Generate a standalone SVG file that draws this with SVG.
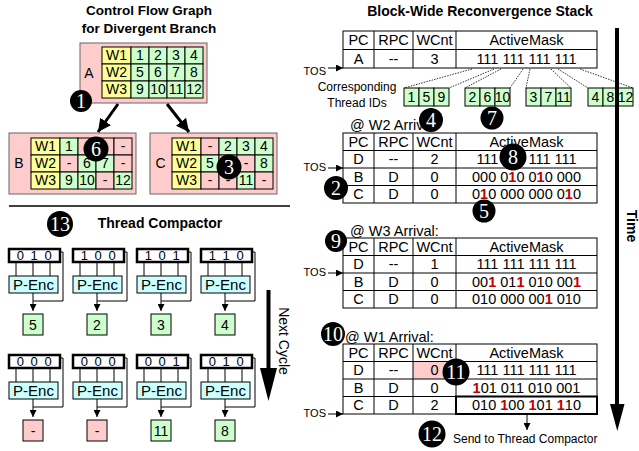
<svg xmlns="http://www.w3.org/2000/svg" width="639" height="451" viewBox="0 0 639 451">
<defs>
<style>
text{font-family:"Liberation Sans",Arial,sans-serif;fill:#000}
.title{font-size:13.5px;font-weight:bold;text-anchor:middle}
.c{text-anchor:middle;font-size:14px}
.box{fill:#ffcccc;stroke:#666;stroke-width:1}
.y{fill:#ffff99;stroke:#000;stroke-width:1}
.g{fill:#ccffcc;stroke:#000;stroke-width:1}
.p{fill:#ffcccc;stroke:#000;stroke-width:1}
.st{font-size:14.5px;text-anchor:middle}
.lab{font-size:14.5px}
.r{fill:#c00000;font-weight:bold}
.bn{font-family:"Liberation Serif","Times New Roman",serif;fill:#fff;text-anchor:middle;font-size:20px}
.tbl{fill:#fff;stroke:#000;stroke-width:1}
.ln{stroke:#000;stroke-width:1;fill:none}
.dot{stroke:#000;stroke-width:0.8;stroke-dasharray:1.5 1.2;fill:none}
.mask{fill:#fff;stroke:#000;stroke-width:2.5}
.mt{font-size:13px;text-anchor:middle;letter-spacing:1.5px}
.enc{fill:#ccffff;stroke:#000;stroke-width:1}
.et{font-size:15px;text-anchor:middle}
.sm{font-size:11px}
.s12{font-size:12px}
</style>
<marker id="a1" viewBox="0 0 10 10" refX="10" refY="5" markerWidth="7" markerHeight="7" markerUnits="userSpaceOnUse" orient="auto"><path d="M0,0L10,5L0,10z" fill="#000"/></marker>
<marker id="a2" viewBox="0 0 10 10" refX="10" refY="5" markerWidth="13" markerHeight="13" markerUnits="userSpaceOnUse" orient="auto"><path d="M0,0L10,5L0,10z" fill="#000"/></marker>
</defs>
<rect width="639" height="451" fill="#fff"/>

<!-- titles -->
<text class="title" x="149" y="15">Control Flow Graph</text>
<text class="title" x="149" y="33">for Divergent Branch</text>
<text class="title" x="480" y="16" style="font-size:14px">Block-Wide Reconvergence Stack</text>
<line x1="9" y1="206" x2="290" y2="206" stroke="#000" stroke-width="1.5"/>
<text class="title" x="160" y="228" style="font-size:14px">Thread Compactor</text>

<!-- CFG node A -->
<g id="nodeA">
<rect class="box" x="80" y="43" width="127" height="60"/>
<text class="c" x="89" y="78">A</text>
<rect class="y" x="102" y="47" width="29" height="17"/><text class="c" x="116.5" y="60">W1</text>
<rect class="y" x="102" y="64" width="29" height="17"/><text class="c" x="116.5" y="77">W2</text>
<rect class="y" x="102" y="81" width="29" height="17"/><text class="c" x="116.5" y="94">W3</text>
<rect class="g" x="131" y="47" width="18" height="17"/><text class="c" x="140" y="60">1</text>
<rect class="g" x="149" y="47" width="18" height="17"/><text class="c" x="158" y="60">2</text>
<rect class="g" x="167" y="47" width="18" height="17"/><text class="c" x="176" y="60">3</text>
<rect class="g" x="185" y="47" width="18" height="17"/><text class="c" x="194" y="60">4</text>
<rect class="g" x="131" y="64" width="18" height="17"/><text class="c" x="140" y="77">5</text>
<rect class="g" x="149" y="64" width="18" height="17"/><text class="c" x="158" y="77">6</text>
<rect class="g" x="167" y="64" width="18" height="17"/><text class="c" x="176" y="77">7</text>
<rect class="g" x="185" y="64" width="18" height="17"/><text class="c" x="194" y="77">8</text>
<rect class="g" x="131" y="81" width="18" height="17"/><text class="c" x="140" y="94">9</text>
<rect class="g" x="149" y="81" width="18" height="17"/><text class="c" x="158" y="94">10</text>
<rect class="g" x="167" y="81" width="18" height="17"/><text class="c" x="176" y="94">11</text>
<rect class="g" x="185" y="81" width="18" height="17"/><text class="c" x="194" y="94">12</text>
</g>

<!-- CFG node B -->
<g id="nodeB">
<rect class="box" x="9" y="133" width="127" height="61"/>
<text class="c" x="19" y="168">B</text>
<rect class="y" x="31" y="138" width="29" height="17"/><text class="c" x="45.5" y="151">W1</text>
<rect class="y" x="31" y="155" width="29" height="17"/><text class="c" x="45.5" y="168">W2</text>
<rect class="y" x="31" y="172" width="29" height="17"/><text class="c" x="45.5" y="185">W3</text>
<rect class="g" x="60" y="138" width="18" height="17"/><text class="c" x="69" y="151">1</text>
<rect class="p" x="78" y="138" width="18" height="17"/><text class="c" x="87" y="151">-</text>
<rect class="p" x="96" y="138" width="18" height="17"/><text class="c" x="105" y="151">-</text>
<rect class="p" x="114" y="138" width="18" height="17"/><text class="c" x="123" y="151">-</text>
<rect class="p" x="60" y="155" width="18" height="17"/><text class="c" x="69" y="168">-</text>
<rect class="g" x="78" y="155" width="18" height="17"/><text class="c" x="87" y="168">6</text>
<rect class="g" x="96" y="155" width="18" height="17"/><text class="c" x="105" y="168">7</text>
<rect class="p" x="114" y="155" width="18" height="17"/><text class="c" x="123" y="168">-</text>
<rect class="g" x="60" y="172" width="18" height="17"/><text class="c" x="69" y="185">9</text>
<rect class="g" x="78" y="172" width="18" height="17"/><text class="c" x="87" y="185">10</text>
<rect class="p" x="96" y="172" width="18" height="17"/><text class="c" x="105" y="185">-</text>
<rect class="g" x="114" y="172" width="18" height="17"/><text class="c" x="123" y="185">12</text>
</g>

<!-- CFG node C -->
<g id="nodeC">
<rect class="box" x="150" y="133" width="127" height="61"/>
<text class="c" x="160.5" y="168">C</text>
<rect class="y" x="172" y="138" width="29" height="17"/><text class="c" x="186.5" y="151">W1</text>
<rect class="y" x="172" y="155" width="29" height="17"/><text class="c" x="186.5" y="168">W2</text>
<rect class="y" x="172" y="172" width="29" height="17"/><text class="c" x="186.5" y="185">W3</text>
<rect class="p" x="201" y="138" width="18" height="17"/><text class="c" x="210" y="151">-</text>
<rect class="g" x="219" y="138" width="18" height="17"/><text class="c" x="228" y="151">2</text>
<rect class="g" x="237" y="138" width="18" height="17"/><text class="c" x="246" y="151">3</text>
<rect class="g" x="255" y="138" width="18" height="17"/><text class="c" x="264" y="151">4</text>
<rect class="g" x="201" y="155" width="18" height="17"/><text class="c" x="210" y="168">5</text>
<rect class="p" x="219" y="155" width="18" height="17"/><text class="c" x="228" y="168">-</text>
<rect class="p" x="237" y="155" width="18" height="17"/><text class="c" x="246" y="168">-</text>
<rect class="g" x="255" y="155" width="18" height="17"/><text class="c" x="264" y="168">8</text>
<rect class="p" x="201" y="172" width="18" height="17"/><text class="c" x="210" y="185">-</text>
<rect class="p" x="219" y="172" width="18" height="17"/><text class="c" x="228" y="185">-</text>
<rect class="g" x="237" y="172" width="18" height="17"/><text class="c" x="246" y="185">11</text>
<rect class="p" x="255" y="172" width="18" height="17"/><text class="c" x="264" y="185">-</text>
</g>

<!-- Thread compactor units -->
<g id="tc1">
<rect class="mask" x="9" y="249" width="51" height="13"/><text class="mt" x="35" y="260">0 1 0</text>
<path class="ln" d="M16,262V276M33,262V276M50,262V276"/>
<rect class="enc" x="9" y="276" width="49" height="17"/><text class="et" x="33.5" y="290">P-Enc</text>
<rect class="g" x="23" y="314" width="20" height="21"/><text class="c" x="33" y="330">5</text>
</g>
<g id="tc2">
<rect class="mask" x="73" y="249" width="51" height="13"/><text class="mt" x="99" y="260">1 0 0</text>
<path class="ln" d="M80,262V276M97,262V276M114,262V276"/>
<rect class="enc" x="73" y="276" width="49" height="17"/><text class="et" x="97.5" y="290">P-Enc</text>
<rect class="g" x="87" y="314" width="20" height="21"/><text class="c" x="97" y="330">2</text>
</g>
<g id="tc3">
<rect class="mask" x="137" y="249" width="51" height="13"/><text class="mt" x="163" y="260">1 0 1</text>
<path class="ln" d="M144,262V276M161,262V276M178,262V276"/>
<rect class="enc" x="137" y="276" width="49" height="17"/><text class="et" x="161.5" y="290">P-Enc</text>
<rect class="g" x="151" y="314" width="20" height="21"/><text class="c" x="161" y="330">3</text>
</g>
<g id="tc4">
<rect class="mask" x="201" y="249" width="51" height="13"/><text class="mt" x="227" y="260">1 1 0</text>
<path class="ln" d="M208,262V276M225,262V276M242,262V276"/>
<rect class="enc" x="201" y="276" width="49" height="17"/><text class="et" x="225.5" y="290">P-Enc</text>
<rect class="g" x="215" y="314" width="20" height="21"/><text class="c" x="225" y="330">4</text>
</g>
<g id="tc5">
<rect class="mask" x="9" y="355" width="51" height="13"/><text class="mt" x="35" y="366">0 0 0</text>
<path class="ln" d="M16,368V382M33,368V382M50,368V382"/>
<rect class="enc" x="9" y="382" width="49" height="17"/><text class="et" x="33.5" y="396">P-Enc</text>
<rect class="p" x="23" y="420" width="20" height="21"/><text class="c" x="33" y="436">-</text>
</g>
<g id="tc6">
<rect class="mask" x="73" y="355" width="51" height="13"/><text class="mt" x="99" y="366">0 0 0</text>
<path class="ln" d="M80,368V382M97,368V382M114,368V382"/>
<rect class="enc" x="73" y="382" width="49" height="17"/><text class="et" x="97.5" y="396">P-Enc</text>
<rect class="p" x="87" y="420" width="20" height="21"/><text class="c" x="97" y="436">-</text>
</g>
<g id="tc7">
<rect class="mask" x="137" y="355" width="51" height="13"/><text class="mt" x="163" y="366">0 0 1</text>
<path class="ln" d="M144,368V382M161,368V382M178,368V382"/>
<rect class="enc" x="137" y="382" width="49" height="17"/><text class="et" x="161.5" y="396">P-Enc</text>
<rect class="g" x="151" y="420" width="20" height="21"/><text class="c" x="161" y="436">11</text>
</g>
<g id="tc8">
<rect class="mask" x="201" y="355" width="51" height="13"/><text class="mt" x="227" y="366">0 1 0</text>
<path class="ln" d="M208,368V382M225,368V382M242,368V382"/>
<rect class="enc" x="201" y="382" width="49" height="17"/><text class="et" x="225.5" y="396">P-Enc</text>
<rect class="g" x="215" y="420" width="20" height="21"/><text class="c" x="225" y="436">8</text>
</g>
<text transform="translate(279,341) rotate(90)" text-anchor="middle" style="font-size:14px">Next Cycle</text>

<!-- Stack entry 0 -->
<g id="stack0">
<rect class="tbl" x="343" y="31" width="254" height="37"/>
<path class="ln" d="M343,49.5H597M374,31V68M413,31V68M456,31V68"/>
<text class="st" x="358.5" y="45">PC</text><text class="st" x="393.5" y="45">RPC</text><text class="st" x="434.5" y="45">WCnt</text><text class="st" x="526.5" y="45">ActiveMask</text>
<text class="st" x="358.5" y="63.5">A</text><text class="st" x="393.5" y="63.5">--</text><text class="st" x="434.5" y="63.5">3</text><text class="st" x="526.5" y="63.5">111 111 111 111</text>
<text class="sm" x="326" y="75" text-anchor="end">TOS</text>
</g>
<text class="s12" x="357" y="91" text-anchor="middle">Corresponding</text>
<text class="s12" x="357" y="107" text-anchor="middle">Thread IDs</text>
<g id="tid1">
<rect class="g" x="404" y="88" width="15" height="18"/><text class="c" x="411.5" y="102">1</text>
<rect class="g" x="419" y="88" width="15" height="18"/><text class="c" x="426.5" y="102">5</text>
<rect class="g" x="434" y="88" width="15" height="18"/><text class="c" x="441.5" y="102">9</text>
</g>
<g id="tid2">
<rect class="g" x="465" y="88" width="15" height="18"/><text class="c" x="472.5" y="102">2</text>
<rect class="g" x="480" y="88" width="15" height="18"/><text class="c" x="487.5" y="102">6</text>
<rect class="g" x="495" y="88" width="15" height="18"/><text class="c" x="502.5" y="102">10</text>
</g>
<g id="tid3">
<rect class="g" x="526" y="88" width="15" height="18"/><text class="c" x="533.5" y="102">3</text>
<rect class="g" x="541" y="88" width="15" height="18"/><text class="c" x="548.5" y="102">7</text>
<rect class="g" x="556" y="88" width="15" height="18"/><text class="c" x="563.5" y="102">11</text>
</g>
<g id="tid4">
<rect class="g" x="588" y="88" width="15" height="18"/><text class="c" x="595.5" y="102">4</text>
<rect class="g" x="603" y="88" width="15" height="18"/><text class="c" x="610.5" y="102">8</text>
<rect class="g" x="618" y="88" width="15" height="18"/><text class="c" x="625.5" y="102">12</text>
</g>

<!-- Stack W2 -->
<g id="stackW2">
<text class="lab" x="350" y="130">@ W2 Arrival:</text>
<rect class="tbl" x="343" y="133" width="254" height="70"/>
<path class="ln" d="M343,150.5H597M343,168H597M343,185.5H597M374,133V203M413,133V203M456,133V203"/>
<text class="st" x="358.5" y="146.5">PC</text><text class="st" x="393.5" y="146.5">RPC</text><text class="st" x="434.5" y="146.5">WCnt</text><text class="st" x="526.5" y="146.5">ActiveMask</text>
<text class="st" x="358.5" y="164">D</text><text class="st" x="393.5" y="164">--</text><text class="st" x="434.5" y="164">2</text><text class="st" x="526.5" y="164">111 111 111 111</text>
<text class="st" x="358.5" y="181.5">B</text><text class="st" x="393.5" y="181.5">D</text><text class="st" x="434.5" y="181.5">0</text><text class="st" x="526.5" y="181.5">000 0<tspan class="r">1</tspan>0 0<tspan class="r">1</tspan>0 000</text>
<text class="st" x="358.5" y="199">C</text><text class="st" x="393.5" y="199">D</text><text class="st" x="434.5" y="199">0</text><text class="st" x="526.5" y="199">0<tspan class="r">1</tspan>0 000 000 0<tspan class="r">1</tspan>0</text>
<text class="sm" x="326" y="171" text-anchor="end">TOS</text>
</g>

<!-- Stack W3 -->
<g id="stackW3">
<text class="lab" x="350" y="235.5">@ W3 Arrival:</text>
<rect class="tbl" x="343" y="238" width="254" height="70"/>
<path class="ln" d="M343,255.5H597M343,273H597M343,290.5H597M374,238V308M413,238V308M456,238V308"/>
<text class="st" x="358.5" y="251.5">PC</text><text class="st" x="393.5" y="251.5">RPC</text><text class="st" x="434.5" y="251.5">WCnt</text><text class="st" x="526.5" y="251.5">ActiveMask</text>
<text class="st" x="358.5" y="269">D</text><text class="st" x="393.5" y="269">--</text><text class="st" x="434.5" y="269">1</text><text class="st" x="526.5" y="269">111 111 111 111</text>
<text class="st" x="358.5" y="286.5">B</text><text class="st" x="393.5" y="286.5">D</text><text class="st" x="434.5" y="286.5">0</text><text class="st" x="526.5" y="286.5">00<tspan class="r">1</tspan> 01<tspan class="r">1</tspan> 010 00<tspan class="r">1</tspan></text>
<text class="st" x="358.5" y="304">C</text><text class="st" x="393.5" y="304">D</text><text class="st" x="434.5" y="304">0</text><text class="st" x="526.5" y="304">010 000 00<tspan class="r">1</tspan> 010</text>
<text class="sm" x="326" y="276" text-anchor="end">TOS</text>
</g>

<!-- Stack W1 -->
<g id="stackW1">
<text class="lab" x="345" y="341.5">@ W1 Arrival:</text>
<rect class="tbl" x="343" y="344" width="254" height="70"/>
<rect x="413" y="361.5" width="43" height="17.5" fill="#ffcccc"/>
<path class="ln" d="M343,361.5H597M343,379H597M343,396.5H597M374,344V414M413,344V414M456,344V414"/>
<text class="st" x="358.5" y="357.5">PC</text><text class="st" x="393.5" y="357.5">RPC</text><text class="st" x="434.5" y="357.5">WCnt</text><text class="st" x="526.5" y="357.5">ActiveMask</text>
<text class="st" x="358.5" y="375">D</text><text class="st" x="393.5" y="375">--</text><text class="st" x="434.5" y="375">0</text><text class="st" x="526.5" y="375">111 111 111 111</text>
<text class="st" x="358.5" y="392.5">B</text><text class="st" x="393.5" y="392.5">D</text><text class="st" x="434.5" y="392.5">0</text><text class="st" x="526.5" y="392.5"><tspan class="r">1</tspan>01 011 010 001</text>
<text class="st" x="358.5" y="410">C</text><text class="st" x="393.5" y="410">D</text><text class="st" x="434.5" y="410">2</text><text class="st" x="526.5" y="410">010 <tspan class="r">1</tspan>00 <tspan class="r">1</tspan>01 <tspan class="r">1</tspan>10</text>
<rect x="456" y="396.5" width="141" height="17.5" fill="none" stroke="#000" stroke-width="2"/>
<text class="sm" x="326" y="417" text-anchor="end">TOS</text>
<text class="s12" x="453" y="443">Send to Thread Compactor</text>
</g>
<text transform="translate(627,226) rotate(90)" text-anchor="middle" style="font-size:14px;font-weight:bold">Time</text>

<!-- connectors -->
<g id="connectors">
<line x1="118" y1="104" x2="98" y2="132" stroke="#000" stroke-width="3" marker-end="url(#a2)"/>
<line x1="167" y1="104" x2="189" y2="132" stroke="#000" stroke-width="3" marker-end="url(#a2)"/>
<path class="dot" d="M472,69L404,88M494,69L449,88M501,69L465,88M523,69L510,88M530,69L526,88M551,69L571,88M558,69L588,88M580,69L633,88"/>
<line class="ln" x1="328" y1="68" x2="343" y2="68" marker-end="url(#a1)"/>
<line class="ln" x1="328" y1="168" x2="343" y2="168" marker-end="url(#a1)"/>
<line class="ln" x1="328" y1="273" x2="343" y2="273" marker-end="url(#a1)"/>
<line class="ln" x1="328" y1="414" x2="343" y2="414" marker-end="url(#a1)"/>
<line class="ln" x1="527" y1="414" x2="527" y2="430" marker-end="url(#a1)"/>
<path class="ln" d="M60,252H63V301H33M124,252H127V301H97M188,252H191V301H161M252,252H255V301H225"/>
<path class="ln" d="M60,358H63V407H33M124,358H127V407H97M188,358H191V407H161M252,358H255V407H225"/>
<line x1="33" y1="293" x2="33" y2="311" class="ln" marker-end="url(#a1)"/>
<line x1="97" y1="293" x2="97" y2="311" class="ln" marker-end="url(#a1)"/>
<line x1="161" y1="293" x2="161" y2="311" class="ln" marker-end="url(#a1)"/>
<line x1="225" y1="293" x2="225" y2="311" class="ln" marker-end="url(#a1)"/>
<line x1="33" y1="399" x2="33" y2="417" class="ln" marker-end="url(#a1)"/>
<line x1="97" y1="399" x2="97" y2="417" class="ln" marker-end="url(#a1)"/>
<line x1="161" y1="399" x2="161" y2="417" class="ln" marker-end="url(#a1)"/>
<line x1="225" y1="399" x2="225" y2="417" class="ln" marker-end="url(#a1)"/>
<line x1="268.5" y1="290" x2="268.5" y2="372" stroke="#000" stroke-width="4"/>
<polygon points="260,368 277,368 268.5,401" fill="#000"/>
<line x1="617" y1="28" x2="617" y2="408" stroke="#000" stroke-width="4"/>
<polygon points="610,404 624.5,404 617.3,431" fill="#000"/>
</g>

<!-- bullets -->
<g id="bullets">
<circle cx="81" cy="101" r="11"/><text class="bn" x="81" y="108">1</text>
<circle cx="96" cy="149" r="12.5"/><text class="bn" x="96" y="156">6</text>
<circle cx="229" cy="167" r="12.5"/><text class="bn" x="229" y="174">3</text>
<circle cx="60" cy="224" r="13"/><text class="bn" x="60" y="231">13</text>
<circle cx="431" cy="120" r="12"/><text class="bn" x="431" y="127">4</text>
<circle cx="492" cy="118" r="11.5"/><text class="bn" x="492" y="125">7</text>
<circle cx="513" cy="157" r="13.5"/><text class="bn" x="513" y="164">8</text>
<circle cx="336" cy="188" r="12"/><text class="bn" x="336" y="195">2</text>
<circle cx="484" cy="211" r="11.5"/><text class="bn" x="484" y="218">5</text>
<circle cx="336" cy="241" r="11"/><text class="bn" x="336" y="248">9</text>
<circle cx="333" cy="334" r="12"/><text class="bn" x="333" y="341">10</text>
<circle cx="456" cy="372" r="13.5"/><text class="bn" x="456" y="379">11</text>
<circle cx="432" cy="434" r="13.5"/><text class="bn" x="432" y="441">12</text>
</g>
</svg>
